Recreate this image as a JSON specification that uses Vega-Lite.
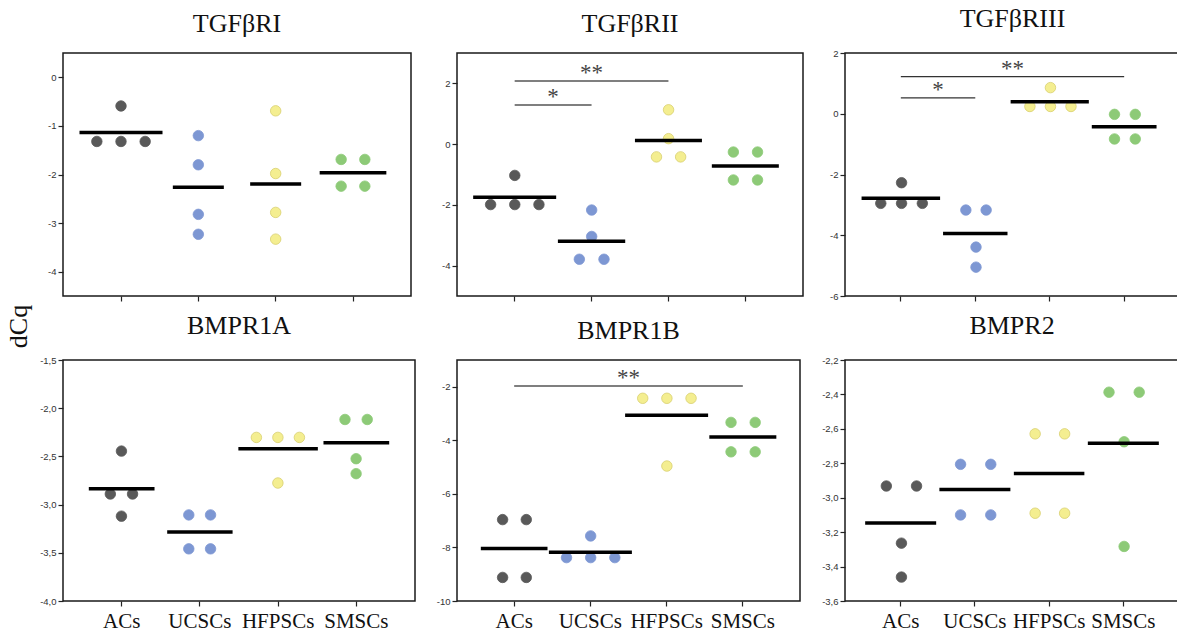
{
  "$schema": "https://vega.github.io/schema/vega-lite/v6.json",
  "background": "white",
  "padding": {"left": 5, "top": 5, "right": 0, "bottom": 0},
  "title": {"text": "dCq", "orient": "left", "anchor": "middle", "angle": 270, "font": "Liberation Serif", "fontSize": 26, "fontWeight": "normal", "color": "#111111", "offset": -11, "frame": "bounds", "baseline": "bottom", "dy": 8, "dx": -8},
  "datasets": {
    "cells": [
      {"gene": "TGFβRI", "group": "ACs", "dx": 0, "dCq": -0.59},
      {"gene": "TGFβRI", "group": "ACs", "dx": -1, "dCq": -1.32},
      {"gene": "TGFβRI", "group": "ACs", "dx": 0, "dCq": -1.32},
      {"gene": "TGFβRI", "group": "ACs", "dx": 1, "dCq": -1.32},
      {"gene": "TGFβRI", "group": "UCSCs", "dx": 0, "dCq": -1.2},
      {"gene": "TGFβRI", "group": "UCSCs", "dx": 0, "dCq": -1.8},
      {"gene": "TGFβRI", "group": "UCSCs", "dx": 0, "dCq": -2.82},
      {"gene": "TGFβRI", "group": "UCSCs", "dx": 0, "dCq": -3.23},
      {"gene": "TGFβRI", "group": "HFPSCs", "dx": 0, "dCq": -0.69},
      {"gene": "TGFβRI", "group": "HFPSCs", "dx": 0, "dCq": -1.98},
      {"gene": "TGFβRI", "group": "HFPSCs", "dx": 0, "dCq": -2.78},
      {"gene": "TGFβRI", "group": "HFPSCs", "dx": 0, "dCq": -3.33},
      {"gene": "TGFβRI", "group": "SMSCs", "dx": -0.49, "dCq": -1.69},
      {"gene": "TGFβRI", "group": "SMSCs", "dx": 0.49, "dCq": -1.69},
      {"gene": "TGFβRI", "group": "SMSCs", "dx": -0.49, "dCq": -2.24},
      {"gene": "TGFβRI", "group": "SMSCs", "dx": 0.49, "dCq": -2.24},

      {"gene": "TGFβRII", "group": "ACs", "dx": 0, "dCq": -1.03},
      {"gene": "TGFβRII", "group": "ACs", "dx": -1, "dCq": -1.99},
      {"gene": "TGFβRII", "group": "ACs", "dx": 0, "dCq": -1.99},
      {"gene": "TGFβRII", "group": "ACs", "dx": 1, "dCq": -1.99},
      {"gene": "TGFβRII", "group": "UCSCs", "dx": 0, "dCq": -2.17},
      {"gene": "TGFβRII", "group": "UCSCs", "dx": 0, "dCq": -3.04},
      {"gene": "TGFβRII", "group": "UCSCs", "dx": -0.51, "dCq": -3.79},
      {"gene": "TGFβRII", "group": "UCSCs", "dx": 0.51, "dCq": -3.79},
      {"gene": "TGFβRII", "group": "HFPSCs", "dx": 0, "dCq": 1.13},
      {"gene": "TGFβRII", "group": "HFPSCs", "dx": 0, "dCq": 0.18},
      {"gene": "TGFβRII", "group": "HFPSCs", "dx": -0.5, "dCq": -0.42},
      {"gene": "TGFβRII", "group": "HFPSCs", "dx": 0.5, "dCq": -0.42},
      {"gene": "TGFβRII", "group": "SMSCs", "dx": -0.5, "dCq": -0.26},
      {"gene": "TGFβRII", "group": "SMSCs", "dx": 0.5, "dCq": -0.26},
      {"gene": "TGFβRII", "group": "SMSCs", "dx": -0.5, "dCq": -1.18},
      {"gene": "TGFβRII", "group": "SMSCs", "dx": 0.5, "dCq": -1.18},

      {"gene": "TGFβRIII", "group": "ACs", "dx": 0, "dCq": -2.27},
      {"gene": "TGFβRIII", "group": "ACs", "dx": -0.86, "dCq": -2.95},
      {"gene": "TGFβRIII", "group": "ACs", "dx": 0, "dCq": -2.95},
      {"gene": "TGFβRIII", "group": "ACs", "dx": 0.86, "dCq": -2.95},
      {"gene": "TGFβRIII", "group": "UCSCs", "dx": -0.42, "dCq": -3.17},
      {"gene": "TGFβRIII", "group": "UCSCs", "dx": 0.42, "dCq": -3.17},
      {"gene": "TGFβRIII", "group": "UCSCs", "dx": 0, "dCq": -4.39},
      {"gene": "TGFβRIII", "group": "UCSCs", "dx": 0, "dCq": -5.05},
      {"gene": "TGFβRIII", "group": "HFPSCs", "dx": 0, "dCq": 0.86},
      {"gene": "TGFβRIII", "group": "HFPSCs", "dx": -0.85, "dCq": 0.24},
      {"gene": "TGFβRIII", "group": "HFPSCs", "dx": 0, "dCq": 0.24},
      {"gene": "TGFβRIII", "group": "HFPSCs", "dx": 0.85, "dCq": 0.24},
      {"gene": "TGFβRIII", "group": "SMSCs", "dx": -0.43, "dCq": -0.02},
      {"gene": "TGFβRIII", "group": "SMSCs", "dx": 0.43, "dCq": -0.02},
      {"gene": "TGFβRIII", "group": "SMSCs", "dx": -0.43, "dCq": -0.83},
      {"gene": "TGFβRIII", "group": "SMSCs", "dx": 0.43, "dCq": -0.83},

      {"gene": "BMPR1A", "group": "ACs", "dx": 0, "dCq": -2.445},
      {"gene": "BMPR1A", "group": "ACs", "dx": -0.46, "dCq": -2.89},
      {"gene": "BMPR1A", "group": "ACs", "dx": 0.46, "dCq": -2.89},
      {"gene": "BMPR1A", "group": "ACs", "dx": 0, "dCq": -3.12},
      {"gene": "BMPR1A", "group": "UCSCs", "dx": -0.45, "dCq": -3.107},
      {"gene": "BMPR1A", "group": "UCSCs", "dx": 0.45, "dCq": -3.107},
      {"gene": "BMPR1A", "group": "UCSCs", "dx": -0.45, "dCq": -3.459},
      {"gene": "BMPR1A", "group": "UCSCs", "dx": 0.45, "dCq": -3.459},
      {"gene": "BMPR1A", "group": "HFPSCs", "dx": -0.89, "dCq": -2.303},
      {"gene": "BMPR1A", "group": "HFPSCs", "dx": 0, "dCq": -2.303},
      {"gene": "BMPR1A", "group": "HFPSCs", "dx": 0.89, "dCq": -2.303},
      {"gene": "BMPR1A", "group": "HFPSCs", "dx": 0, "dCq": -2.776},
      {"gene": "BMPR1A", "group": "SMSCs", "dx": -0.46, "dCq": -2.117},
      {"gene": "BMPR1A", "group": "SMSCs", "dx": 0.46, "dCq": -2.117},
      {"gene": "BMPR1A", "group": "SMSCs", "dx": 0, "dCq": -2.524},
      {"gene": "BMPR1A", "group": "SMSCs", "dx": 0, "dCq": -2.679},

      {"gene": "BMPR1B", "group": "ACs", "dx": -0.49, "dCq": -6.96},
      {"gene": "BMPR1B", "group": "ACs", "dx": 0.49, "dCq": -6.96},
      {"gene": "BMPR1B", "group": "ACs", "dx": -0.49, "dCq": -9.12},
      {"gene": "BMPR1B", "group": "ACs", "dx": 0.49, "dCq": -9.12},
      {"gene": "BMPR1B", "group": "UCSCs", "dx": 0, "dCq": -7.57},
      {"gene": "BMPR1B", "group": "UCSCs", "dx": -1, "dCq": -8.38},
      {"gene": "BMPR1B", "group": "UCSCs", "dx": 0, "dCq": -8.38},
      {"gene": "BMPR1B", "group": "UCSCs", "dx": 1, "dCq": -8.38},
      {"gene": "BMPR1B", "group": "HFPSCs", "dx": -1, "dCq": -2.43},
      {"gene": "BMPR1B", "group": "HFPSCs", "dx": 0, "dCq": -2.43},
      {"gene": "BMPR1B", "group": "HFPSCs", "dx": 1, "dCq": -2.43},
      {"gene": "BMPR1B", "group": "HFPSCs", "dx": 0, "dCq": -4.96},
      {"gene": "BMPR1B", "group": "SMSCs", "dx": -0.5, "dCq": -3.33},
      {"gene": "BMPR1B", "group": "SMSCs", "dx": 0.5, "dCq": -3.33},
      {"gene": "BMPR1B", "group": "SMSCs", "dx": -0.5, "dCq": -4.43},
      {"gene": "BMPR1B", "group": "SMSCs", "dx": 0.5, "dCq": -4.43},

      {"gene": "BMPR2", "group": "ACs", "dx": -0.625, "dCq": -2.932},
      {"gene": "BMPR2", "group": "ACs", "dx": 0.625, "dCq": -2.932},
      {"gene": "BMPR2", "group": "ACs", "dx": 0, "dCq": -3.264},
      {"gene": "BMPR2", "group": "ACs", "dx": 0, "dCq": -3.461},
      {"gene": "BMPR2", "group": "UCSCs", "dx": -0.625, "dCq": -2.806},
      {"gene": "BMPR2", "group": "UCSCs", "dx": 0.625, "dCq": -2.806},
      {"gene": "BMPR2", "group": "UCSCs", "dx": -0.625, "dCq": -3.1},
      {"gene": "BMPR2", "group": "UCSCs", "dx": 0.625, "dCq": -3.1},
      {"gene": "BMPR2", "group": "HFPSCs", "dx": -0.61, "dCq": -2.629},
      {"gene": "BMPR2", "group": "HFPSCs", "dx": 0.61, "dCq": -2.629},
      {"gene": "BMPR2", "group": "HFPSCs", "dx": -0.61, "dCq": -3.09},
      {"gene": "BMPR2", "group": "HFPSCs", "dx": 0.61, "dCq": -3.09},
      {"gene": "BMPR2", "group": "SMSCs", "dx": -0.625, "dCq": -2.387},
      {"gene": "BMPR2", "group": "SMSCs", "dx": 0.625, "dCq": -2.387},
      {"gene": "BMPR2", "group": "SMSCs", "dx": 0, "dCq": -2.675},
      {"gene": "BMPR2", "group": "SMSCs", "dx": 0, "dCq": -3.283}
    ],
    "sig": [
      {"gene": "TGFβRII", "from": "ACs", "to": "UCSCs", "mid": "ACs–UCSCs", "dCq": 1.29, "label": "*"},
      {"gene": "TGFβRII", "from": "ACs", "to": "HFPSCs", "mid": "UCSCs", "dCq": 2.08, "label": "**"},
      {"gene": "TGFβRIII", "from": "ACs", "to": "UCSCs", "mid": "ACs–UCSCs", "dCq": 0.52, "label": "*"},
      {"gene": "TGFβRIII", "from": "ACs", "to": "SMSCs", "mid": "UCSCs–HFPSCs", "dCq": 1.22, "label": "**"},
      {"gene": "BMPR1B", "from": "ACs", "to": "SMSCs", "mid": "UCSCs–HFPSCs", "dCq": -1.975, "label": "**"}
    ]
  },
  "columns": 3,
  "align": "none",
  "bounds": "flush",
  "spacing": {"row": 64, "column": 42},
  "concat": [
    {
      "width": 348, "height": 243,
      "title": {"text": "TGFβRI"},
      "encoding": {
        "x": {"field": "group", "type": "nominal", "scale": {"domain": ["ACs", "ACs–UCSCs", "UCSCs", "UCSCs–HFPSCs", "HFPSCs", "HFPSCs–SMSCs", "SMSCs"], "paddingInner": 0, "paddingOuter": 1.02}, "axis": {"values": ["ACs", "UCSCs", "HFPSCs", "SMSCs"], "labels": false, "tickSize": 5, "title": null, "domain": false, "grid": false}},
        "y": {"field": "dCq", "type": "quantitative", "scale": {"domain": [-4.5, 0.5], "nice": false, "zero": false}, "axis": {"values": [-4, -3, -2, -1, 0], "format": "d", "title": null, "tickSize": 5, "labelPadding": 2, "domain": false, "grid": false}}
      },
      "layer": [
        {
          "data": {"name": "cells"},
          "transform": [{"filter": "datum.gene === 'TGFβRI'"}],
          "mark": {"type": "circle", "size": 110, "opacity": 1, "strokeWidth": 0.8},
          "encoding": {
            "xOffset": {"field": "dx", "type": "quantitative", "scale": {"domain": [-0.8, 0.8], "nice": false, "zero": false}},
            "color": {"field": "group", "type": "nominal", "scale": {"domain": ["ACs", "UCSCs", "HFPSCs", "SMSCs"], "range": ["#595959", "#7d97d3", "#f4ee90", "#8dca77"]}, "legend": null},
            "stroke": {"field": "group", "type": "nominal", "scale": {"domain": ["ACs", "UCSCs", "HFPSCs", "SMSCs"], "range": ["#595959", "#7d97d3", "#d8cf6e", "#8dca77"]}, "legend": null}
          }
        },
        {
          "data": {"name": "cells"},
          "transform": [{"filter": "datum.gene === 'TGFβRI'"}, {"aggregate": [{"op": "mean", "field": "dCq", "as": "dCq"}, {"op": "max", "field": "dx", "as": "spread"}], "groupby": ["group"]}],
          "mark": {"type": "tick", "color": "black", "thickness": 3.5, "opacity": 1},
          "encoding": {"size": {"field": "spread", "type": "quantitative", "scale": {"domain": [0, 1], "range": [51, 83]}, "legend": null}}
        }
      ]
    },
    {
      "width": 346, "height": 243,
      "title": {"text": "TGFβRII"},
      "encoding": {
        "x": {"field": "group", "type": "nominal", "scale": {"domain": ["ACs", "ACs–UCSCs", "UCSCs", "UCSCs–HFPSCs", "HFPSCs", "HFPSCs–SMSCs", "SMSCs"], "paddingInner": 0, "paddingOuter": 1.02}, "axis": {"values": ["ACs", "UCSCs", "HFPSCs", "SMSCs"], "labels": false, "tickSize": 5, "title": null, "domain": false, "grid": false}},
        "y": {"field": "dCq", "type": "quantitative", "scale": {"domain": [-5, 3], "nice": false, "zero": false}, "axis": {"values": [-4, -2, 0, 2], "format": "d", "title": null, "tickSize": 5, "labelPadding": 2, "domain": false, "grid": false}}
      },
      "layer": [
        {
          "data": {"name": "cells"},
          "transform": [{"filter": "datum.gene === 'TGFβRII'"}],
          "mark": {"type": "circle", "size": 110, "opacity": 1, "strokeWidth": 0.8},
          "encoding": {
            "xOffset": {"field": "dx", "type": "quantitative", "scale": {"domain": [-0.8, 0.8], "nice": false, "zero": false}},
            "color": {"field": "group", "type": "nominal", "scale": {"domain": ["ACs", "UCSCs", "HFPSCs", "SMSCs"], "range": ["#5e5e5e", "#7d97d3", "#f4ee90", "#8dca77"]}, "legend": null},
            "stroke": {"field": "group", "type": "nominal", "scale": {"domain": ["ACs", "UCSCs", "HFPSCs", "SMSCs"], "range": ["#5e5e5e", "#7d97d3", "#d8cf6e", "#8dca77"]}, "legend": null}
          }
        },
        {
          "data": {"name": "cells"},
          "transform": [{"filter": "datum.gene === 'TGFβRII'"}, {"aggregate": [{"op": "mean", "field": "dCq", "as": "dCq"}, {"op": "max", "field": "dx", "as": "spread"}], "groupby": ["group"]}],
          "mark": {"type": "tick", "color": "black", "thickness": 3.5, "opacity": 1},
          "encoding": {"size": {"field": "spread", "type": "quantitative", "scale": {"domain": [0, 1], "range": [51, 83]}, "legend": null}}
        },
        {
          "data": {"name": "sig"},
          "transform": [{"filter": "datum.gene === 'TGFβRII'"}],
          "mark": {"type": "rule", "color": "#555555", "strokeWidth": 1.5},
          "encoding": {
            "x": {"field": "from", "type": "nominal", "scale": {"domain": ["ACs", "ACs–UCSCs", "UCSCs", "UCSCs–HFPSCs", "HFPSCs", "HFPSCs–SMSCs", "SMSCs"], "paddingInner": 0, "paddingOuter": 1.02}, "axis": {"values": ["ACs", "UCSCs", "HFPSCs", "SMSCs"], "labels": false, "tickSize": 5, "title": null, "domain": false, "grid": false}},
            "x2": {"field": "to"}
          }
        },
        {
          "data": {"name": "sig"},
          "transform": [{"filter": "datum.gene === 'TGFβRII'"}],
          "mark": {"type": "text", "font": "Liberation Serif", "fontSize": 23, "color": "#444444", "baseline": "alphabetic", "dy": -1},
          "encoding": {
            "x": {"field": "mid", "type": "nominal", "scale": {"domain": ["ACs", "ACs–UCSCs", "UCSCs", "UCSCs–HFPSCs", "HFPSCs", "HFPSCs–SMSCs", "SMSCs"], "paddingInner": 0, "paddingOuter": 1.02}, "axis": {"values": ["ACs", "UCSCs", "HFPSCs", "SMSCs"], "labels": false, "tickSize": 5, "title": null, "domain": false, "grid": false}},
            "text": {"field": "label"}
          }
        }
      ]
    },
    {
      "width": 335, "height": 243,
      "title": {"text": "TGFβRIII"},
      "encoding": {
        "x": {"field": "group", "type": "nominal", "scale": {"domain": ["ACs", "ACs–UCSCs", "UCSCs", "UCSCs–HFPSCs", "HFPSCs", "HFPSCs–SMSCs", "SMSCs"], "paddingInner": 0, "paddingOuter": 1.02}, "axis": {"values": ["ACs", "UCSCs", "HFPSCs", "SMSCs"], "labels": false, "tickSize": 5, "title": null, "domain": false, "grid": false}},
        "y": {"field": "dCq", "type": "quantitative", "scale": {"domain": [-6, 2], "nice": false, "zero": false}, "axis": {"values": [-6, -4, -2, 0, 2], "format": "d", "title": null, "tickSize": 5, "labelPadding": 2, "domain": false, "grid": false}}
      },
      "layer": [
        {
          "data": {"name": "cells"},
          "transform": [{"filter": "datum.gene === 'TGFβRIII'"}],
          "mark": {"type": "circle", "size": 110, "opacity": 1, "strokeWidth": 0.8},
          "encoding": {
            "xOffset": {"field": "dx", "type": "quantitative", "scale": {"domain": [-0.8, 0.8], "nice": false, "zero": false}},
            "color": {"field": "group", "type": "nominal", "scale": {"domain": ["ACs", "UCSCs", "HFPSCs", "SMSCs"], "range": ["#6e6e6e", "#7d97d3", "#f4ee90", "#8dca77"]}, "legend": null},
            "stroke": {"field": "group", "type": "nominal", "scale": {"domain": ["ACs", "UCSCs", "HFPSCs", "SMSCs"], "range": ["#6e6e6e", "#7d97d3", "#d8cf6e", "#8dca77"]}, "legend": null}
          }
        },
        {
          "data": {"name": "cells"},
          "transform": [{"filter": "datum.gene === 'TGFβRIII'"}, {"aggregate": [{"op": "mean", "field": "dCq", "as": "dCq"}, {"op": "max", "field": "dx", "as": "spread"}], "groupby": ["group"]}],
          "mark": {"type": "tick", "color": "black", "thickness": 3.5, "opacity": 1},
          "encoding": {"size": {"field": "spread", "type": "quantitative", "scale": {"domain": [0, 1], "range": [51, 83]}, "legend": null}}
        },
        {
          "data": {"name": "sig"},
          "transform": [{"filter": "datum.gene === 'TGFβRIII'"}],
          "mark": {"type": "rule", "color": "#333333", "strokeWidth": 1.3},
          "encoding": {
            "x": {"field": "from", "type": "nominal", "scale": {"domain": ["ACs", "ACs–UCSCs", "UCSCs", "UCSCs–HFPSCs", "HFPSCs", "HFPSCs–SMSCs", "SMSCs"], "paddingInner": 0, "paddingOuter": 1.02}, "axis": {"values": ["ACs", "UCSCs", "HFPSCs", "SMSCs"], "labels": false, "tickSize": 5, "title": null, "domain": false, "grid": false}},
            "x2": {"field": "to"}
          }
        },
        {
          "data": {"name": "sig"},
          "transform": [{"filter": "datum.gene === 'TGFβRIII'"}],
          "mark": {"type": "text", "font": "Liberation Serif", "fontSize": 23, "color": "#444444", "baseline": "alphabetic", "dy": -1},
          "encoding": {
            "x": {"field": "mid", "type": "nominal", "scale": {"domain": ["ACs", "ACs–UCSCs", "UCSCs", "UCSCs–HFPSCs", "HFPSCs", "HFPSCs–SMSCs", "SMSCs"], "paddingInner": 0, "paddingOuter": 1.02}, "axis": {"values": ["ACs", "UCSCs", "HFPSCs", "SMSCs"], "labels": false, "tickSize": 5, "title": null, "domain": false, "grid": false}},
            "text": {"field": "label"}
          }
        }
      ]
    },
    {
      "width": 352, "height": 241,
      "title": {"text": "BMPR1A"},
      "encoding": {
        "x": {"field": "group", "type": "nominal", "scale": {"domain": ["ACs", "ACs–UCSCs", "UCSCs", "UCSCs–HFPSCs", "HFPSCs", "HFPSCs–SMSCs", "SMSCs"], "paddingInner": 0, "paddingOuter": 1.2}, "axis": {"values": ["ACs", "UCSCs", "HFPSCs", "SMSCs"], "labelAngle": 0, "labelFont": "Liberation Serif", "labelFontSize": 21, "labelColor": "#111111", "labelPadding": 4, "tickSize": 5, "title": null, "domain": false, "grid": false}},
        "y": {"field": "dCq", "type": "quantitative", "scale": {"domain": [-4, -1.5], "nice": false, "zero": false}, "axis": {"values": [-4, -3.5, -3, -2.5, -2, -1.5], "format": ".1f", "title": null, "tickSize": 5, "labelPadding": 2, "domain": false, "grid": false}}
      },
      "layer": [
        {
          "data": {"name": "cells"},
          "transform": [{"filter": "datum.gene === 'BMPR1A'"}],
          "mark": {"type": "circle", "size": 110, "opacity": 1, "strokeWidth": 0.8},
          "encoding": {
            "xOffset": {"field": "dx", "type": "quantitative", "scale": {"domain": [-0.8, 0.8], "nice": false, "zero": false}},
            "color": {"field": "group", "type": "nominal", "scale": {"domain": ["ACs", "UCSCs", "HFPSCs", "SMSCs"], "range": ["#787878", "#7d97d3", "#f4ee90", "#8dca77"]}, "legend": null},
            "stroke": {"field": "group", "type": "nominal", "scale": {"domain": ["ACs", "UCSCs", "HFPSCs", "SMSCs"], "range": ["#787878", "#7d97d3", "#d8cf6e", "#8dca77"]}, "legend": null}
          }
        },
        {
          "data": {"name": "cells"},
          "transform": [{"filter": "datum.gene === 'BMPR1A'"}, {"aggregate": [{"op": "mean", "field": "dCq", "as": "dCq"}, {"op": "max", "field": "dx", "as": "spread"}], "groupby": ["group"]}],
          "mark": {"type": "tick", "color": "black", "thickness": 3.5, "opacity": 1},
          "encoding": {"size": {"field": "spread", "type": "quantitative", "scale": {"domain": [0, 1], "range": [51, 83]}, "legend": null}}
        }
      ]
    },
    {
      "width": 343, "height": 241,
      "title": {"text": "BMPR1B"},
      "encoding": {
        "x": {"field": "group", "type": "nominal", "scale": {"domain": ["ACs", "ACs–UCSCs", "UCSCs", "UCSCs–HFPSCs", "HFPSCs", "HFPSCs–SMSCs", "SMSCs"], "paddingInner": 0, "paddingOuter": 1.02}, "axis": {"values": ["ACs", "UCSCs", "HFPSCs", "SMSCs"], "labelAngle": 0, "labelFont": "Liberation Serif", "labelFontSize": 21, "labelColor": "#111111", "labelPadding": 4, "tickSize": 5, "title": null, "domain": false, "grid": false}},
        "y": {"field": "dCq", "type": "quantitative", "scale": {"domain": [-10, -1], "nice": false, "zero": false}, "axis": {"values": [-10, -8, -6, -4, -2], "format": "d", "title": null, "tickSize": 5, "labelPadding": 2, "domain": false, "grid": false}}
      },
      "layer": [
        {
          "data": {"name": "cells"},
          "transform": [{"filter": "datum.gene === 'BMPR1B'"}],
          "mark": {"type": "circle", "size": 110, "opacity": 1, "strokeWidth": 0.8},
          "encoding": {
            "xOffset": {"field": "dx", "type": "quantitative", "scale": {"domain": [-0.8, 0.8], "nice": false, "zero": false}},
            "color": {"field": "group", "type": "nominal", "scale": {"domain": ["ACs", "UCSCs", "HFPSCs", "SMSCs"], "range": ["#787878", "#7d97d3", "#f4ee90", "#8dca77"]}, "legend": null},
            "stroke": {"field": "group", "type": "nominal", "scale": {"domain": ["ACs", "UCSCs", "HFPSCs", "SMSCs"], "range": ["#787878", "#7d97d3", "#d8cf6e", "#8dca77"]}, "legend": null}
          }
        },
        {
          "data": {"name": "cells"},
          "transform": [{"filter": "datum.gene === 'BMPR1B'"}, {"aggregate": [{"op": "mean", "field": "dCq", "as": "dCq"}, {"op": "max", "field": "dx", "as": "spread"}], "groupby": ["group"]}],
          "mark": {"type": "tick", "color": "black", "thickness": 3.5, "opacity": 1},
          "encoding": {"size": {"field": "spread", "type": "quantitative", "scale": {"domain": [0, 1], "range": [51, 83]}, "legend": null}}
        },
        {
          "data": {"name": "sig"},
          "transform": [{"filter": "datum.gene === 'BMPR1B'"}],
          "mark": {"type": "rule", "color": "#555555", "strokeWidth": 1.5},
          "encoding": {
            "x": {"field": "from", "type": "nominal", "scale": {"domain": ["ACs", "ACs–UCSCs", "UCSCs", "UCSCs–HFPSCs", "HFPSCs", "HFPSCs–SMSCs", "SMSCs"], "paddingInner": 0, "paddingOuter": 1.02}, "axis": {"values": ["ACs", "UCSCs", "HFPSCs", "SMSCs"], "labelAngle": 0, "labelFont": "Liberation Serif", "labelFontSize": 21, "labelColor": "#111111", "labelPadding": 4, "tickSize": 5, "title": null, "domain": false, "grid": false}},
            "x2": {"field": "to"}
          }
        },
        {
          "data": {"name": "sig"},
          "transform": [{"filter": "datum.gene === 'BMPR1B'"}],
          "mark": {"type": "text", "font": "Liberation Serif", "fontSize": 23, "color": "#444444", "baseline": "alphabetic", "dy": -1},
          "encoding": {
            "x": {"field": "mid", "type": "nominal", "scale": {"domain": ["ACs", "ACs–UCSCs", "UCSCs", "UCSCs–HFPSCs", "HFPSCs", "HFPSCs–SMSCs", "SMSCs"], "paddingInner": 0, "paddingOuter": 1.02}, "axis": {"values": ["ACs", "UCSCs", "HFPSCs", "SMSCs"], "labelAngle": 0, "labelFont": "Liberation Serif", "labelFontSize": 21, "labelColor": "#111111", "labelPadding": 4, "tickSize": 5, "title": null, "domain": false, "grid": false}},
            "text": {"field": "label"}
          }
        }
      ]
    },
    {
      "width": 334, "height": 241,
      "title": {"text": "BMPR2"},
      "encoding": {
        "x": {"field": "group", "type": "nominal", "scale": {"domain": ["ACs", "ACs–UCSCs", "UCSCs", "UCSCs–HFPSCs", "HFPSCs", "HFPSCs–SMSCs", "SMSCs"], "paddingInner": 0, "paddingOuter": 1.08}, "axis": {"values": ["ACs", "UCSCs", "HFPSCs", "SMSCs"], "labelAngle": 0, "labelFont": "Liberation Serif", "labelFontSize": 21, "labelColor": "#111111", "labelPadding": 4, "tickSize": 5, "title": null, "domain": false, "grid": false}},
        "y": {"field": "dCq", "type": "quantitative", "scale": {"domain": [-3.6, -2.2], "nice": false, "zero": false}, "axis": {"values": [-3.6, -3.4, -3.2, -3, -2.8, -2.6, -2.4, -2.2], "format": ".1f", "title": null, "tickSize": 5, "labelPadding": 2, "domain": false, "grid": false}}
      },
      "layer": [
        {
          "data": {"name": "cells"},
          "transform": [{"filter": "datum.gene === 'BMPR2'"}],
          "mark": {"type": "circle", "size": 110, "opacity": 1, "strokeWidth": 0.8},
          "encoding": {
            "xOffset": {"field": "dx", "type": "quantitative", "scale": {"domain": [-0.8, 0.8], "nice": false, "zero": false}},
            "color": {"field": "group", "type": "nominal", "scale": {"domain": ["ACs", "UCSCs", "HFPSCs", "SMSCs"], "range": ["#777777", "#7d97d3", "#f4ee90", "#8dca77"]}, "legend": null},
            "stroke": {"field": "group", "type": "nominal", "scale": {"domain": ["ACs", "UCSCs", "HFPSCs", "SMSCs"], "range": ["#777777", "#7d97d3", "#d8cf6e", "#8dca77"]}, "legend": null}
          }
        },
        {
          "data": {"name": "cells"},
          "transform": [{"filter": "datum.gene === 'BMPR2'"}, {"aggregate": [{"op": "mean", "field": "dCq", "as": "dCq"}, {"op": "max", "field": "dx", "as": "spread"}], "groupby": ["group"]}],
          "mark": {"type": "tick", "color": "black", "thickness": 3.5, "opacity": 1},
          "encoding": {"size": {"field": "spread", "type": "quantitative", "scale": {"domain": [0, 1], "range": [51, 83]}, "legend": null}}
        }
      ]
    }
  ],
  "config": {
    "locale": {"number": {"decimal": ",", "thousands": ".", "grouping": [3], "currency": ["", ""], "minus": "-"}},
    "view": {"stroke": "#1a1a1a", "strokeWidth": 1.5},
    "axis": {"labelFont": "Liberation Sans", "labelFontSize": 9.5, "labelColor": "#333333", "tickColor": "#222222", "tickWidth": 1.2},
    "title": {"font": "Liberation Serif", "fontSize": 26, "fontWeight": "normal", "color": "#111111", "frame": "group", "offset": 16, "baseline": "alphabetic"}
  }
}
